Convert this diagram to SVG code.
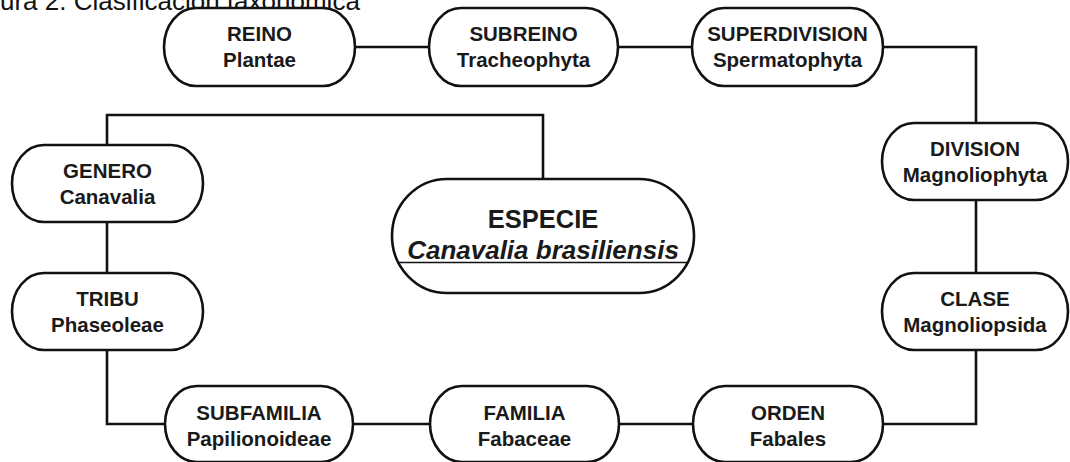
<svg xmlns="http://www.w3.org/2000/svg" width="1070" height="462" viewBox="0 0 1070 462">
<style>
.box{fill:#fff;stroke:#111;stroke-width:2.6}
.t{font-family:"Liberation Sans",Arial,sans-serif;font-weight:bold;font-size:20.5px;fill:#1a1a1a;text-anchor:middle}
.big{font-size:25.5px}
.it{font-style:italic;font-size:26px}
.con{fill:none;stroke:#111;stroke-width:2.6}
.title{font-family:"Liberation Sans",Arial,sans-serif;font-size:26px;fill:#111}
</style>
<rect width="1070" height="462" fill="#fff"/>
<text class="title" x="0" y="10">ura 2. Clasificación taxonómica</text>
<g id="connectors">
<line class="con" x1="355" y1="47" x2="429" y2="47"/>
<line class="con" x1="618" y1="47" x2="692" y2="47"/>
<polyline class="con" points="883,47 976,47 976,123"/>
<line class="con" x1="976" y1="200" x2="976" y2="273"/>
<polyline class="con" points="976,350 976,424 883,424"/>
<line class="con" x1="693" y1="424" x2="619" y2="424"/>
<line class="con" x1="430" y1="424" x2="353" y2="424"/>
<polyline class="con" points="165,424 107,424 107,350"/>
<line class="con" x1="107" y1="273" x2="107" y2="222"/>
<polyline class="con" points="107,145 107,115 543,115 543,179"/>
</g>
<g id="reino"><rect class="box" x="164" y="8" width="191" height="78" rx="32" ry="39"/><text class="t" x="259.5" y="41">REINO</text><text class="t" x="259.5" y="67">Plantae</text></g>
<g id="subreino"><rect class="box" x="429" y="8" width="189" height="78" rx="32" ry="39"/><text class="t" x="523.5" y="41">SUBREINO</text><text class="t" x="523.5" y="67">Tracheophyta</text></g>
<g id="superdivision"><rect class="box" x="692" y="8" width="191" height="78" rx="32" ry="39"/><text class="t" x="787.5" y="41">SUPERDIVISION</text><text class="t" x="787.5" y="67">Spermatophyta</text></g>
<g id="division"><rect class="box" x="882" y="123" width="186" height="77" rx="32" ry="38.5"/><text class="t" x="975" y="156">DIVISION</text><text class="t" x="975" y="182">Magnoliophyta</text></g>
<g id="clase"><rect class="box" x="882" y="273" width="186" height="77" rx="32" ry="38.5"/><text class="t" x="975" y="306">CLASE</text><text class="t" x="975" y="332">Magnoliopsida</text></g>
<g id="orden"><rect class="box" x="693" y="386" width="190" height="76" rx="32" ry="38"/><text class="t" x="788" y="420">ORDEN</text><text class="t" x="788" y="446">Fabales</text></g>
<g id="familia"><rect class="box" x="430" y="386" width="189" height="76" rx="32" ry="38"/><text class="t" x="524.5" y="420">FAMILIA</text><text class="t" x="524.5" y="446">Fabaceae</text></g>
<g id="subfamilia"><rect class="box" x="165" y="386" width="188" height="76" rx="32" ry="38"/><text class="t" x="259" y="420">SUBFAMILIA</text><text class="t" x="259" y="446">Papilionoideae</text></g>
<g id="tribu"><rect class="box" x="12" y="273" width="191" height="77" rx="32" ry="38.5"/><text class="t" x="107.5" y="306">TRIBU</text><text class="t" x="107.5" y="332">Phaseoleae</text></g>
<g id="genero"><rect class="box" x="12" y="145" width="191" height="77" rx="32" ry="38.5"/><text class="t" x="107.5" y="178">GENERO</text><text class="t" x="107.5" y="204">Canavalia</text></g>
<g id="especie"><rect class="box" x="392" y="179" width="302" height="114" rx="55" ry="57"/><text class="t big" x="543" y="228">ESPECIE</text><text class="t it" x="543" y="259">Canavalia brasiliensis</text><line x1="397" y1="262.5" x2="689" y2="262.5" stroke="#111" stroke-width="1.6"/></g>
</svg>
